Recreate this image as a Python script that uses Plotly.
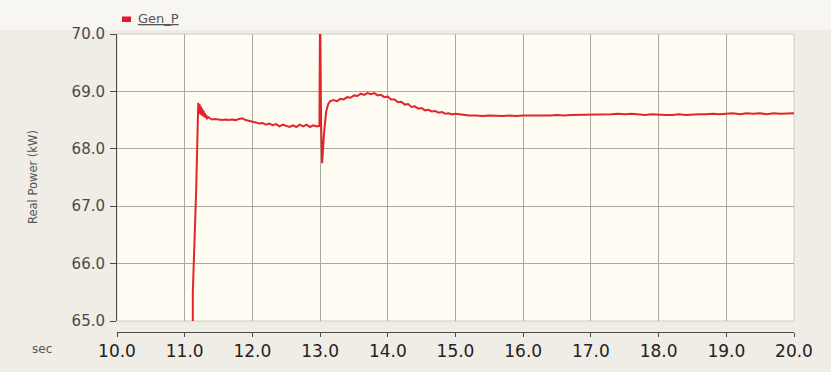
import plotly.graph_objects as go

# Generator real power trace (time in seconds, power in kW)
t_start = [10.00, 11.09, 11.12, 11.17]
p_start = [0.0, 0.0, 65.5, 67.3]

t_settle = [11.20, 11.21, 11.22, 11.23, 11.24, 11.25, 11.26, 11.27, 11.28, 11.29,
            11.30, 11.31, 11.32, 11.33, 11.35, 11.38]
p_settle = [68.80, 68.62, 68.78, 68.60, 68.74, 68.58, 68.70, 68.57, 68.66, 68.55,
            68.62, 68.54, 68.59, 68.53, 68.55, 68.52]

t_plateau = [11.40, 11.45, 11.50, 11.55, 11.60, 11.65, 11.70, 11.75, 11.80, 11.85,
             11.90, 11.95, 12.00, 12.05, 12.10, 12.15, 12.20, 12.25, 12.30, 12.35,
             12.40, 12.45, 12.50, 12.55, 12.60, 12.65, 12.70, 12.75, 12.80, 12.85,
             12.90, 12.95, 12.99]
p_plateau = [68.51, 68.52, 68.51, 68.50, 68.51, 68.50, 68.51, 68.50, 68.52, 68.53,
             68.50, 68.49, 68.47, 68.46, 68.44, 68.45, 68.42, 68.44, 68.41, 68.43,
             68.39, 68.42, 68.40, 68.38, 68.41, 68.38, 68.42, 68.39, 68.42, 68.38,
             68.41, 68.39, 68.40]

t_step = [13.00, 13.015, 13.03, 13.06, 13.09, 13.12, 13.15]
p_step = [70.60, 68.40, 67.75, 68.30, 68.65, 68.78, 68.83]

t_swing = [13.20, 13.25, 13.30, 13.35, 13.40, 13.45, 13.50, 13.55, 13.60, 13.65,
           13.70, 13.75, 13.80, 13.85, 13.90, 13.95, 14.00, 14.05, 14.10, 14.15,
           14.20, 14.25, 14.30, 14.35, 14.40, 14.45, 14.50, 14.55, 14.60, 14.65,
           14.70, 14.75, 14.80, 14.85, 14.90, 14.95, 15.00]
p_swing = [68.85, 68.83, 68.87, 68.86, 68.90, 68.89, 68.93, 68.92, 68.96, 68.94,
           68.97, 68.95, 68.97, 68.93, 68.94, 68.90, 68.91, 68.86, 68.86, 68.81,
           68.82, 68.77, 68.78, 68.73, 68.74, 68.70, 68.71, 68.67, 68.68, 68.65,
           68.66, 68.63, 68.64, 68.61, 68.62, 68.60, 68.61]

t_steady = [15.1, 15.2, 15.3, 15.4, 15.5, 15.6, 15.7, 15.8, 15.9, 16.0,
            16.1, 16.2, 16.3, 16.4, 16.5, 16.6, 16.7, 16.8, 16.9, 17.0,
            17.1, 17.2, 17.3, 17.4, 17.5, 17.6, 17.7, 17.8, 17.9, 18.0,
            18.1, 18.2, 18.3, 18.4, 18.5, 18.6, 18.7, 18.8, 18.9, 19.0,
            19.1, 19.2, 19.3, 19.4, 19.5, 19.6, 19.7, 19.8, 19.9, 20.0]
p_steady = [68.59, 68.58, 68.58, 68.57, 68.58, 68.57, 68.57, 68.58, 68.57, 68.58,
            68.58, 68.57, 68.58, 68.58, 68.59, 68.58, 68.59, 68.59, 68.60, 68.59,
            68.59, 68.60, 68.60, 68.61, 68.60, 68.61, 68.60, 68.59, 68.60, 68.59,
            68.59, 68.59, 68.60, 68.59, 68.60, 68.60, 68.60, 68.61, 68.60, 68.61,
            68.62, 68.60, 68.62, 68.61, 68.62, 68.60, 68.62, 68.61, 68.62, 68.62]

time_s = t_start + t_settle + t_plateau + t_step + t_swing + t_steady
gen_p = p_start + p_settle + p_plateau + p_step + p_swing + p_steady

x_ticks = [10, 11, 12, 13, 14, 15, 16, 17, 18, 19, 20]
y_ticks = [65, 66, 67, 68, 69, 70]

W, H = 831, 372
ML, MR, MT, MB = 117, 37, 34, 40
PW, PH = W - ML - MR, H - MT - MB


def px_x(px):
    return (px - ML) / PW


def px_y(py):
    return (H - MB - py) / PH


plot_bottom = 321
y_dom0 = px_y(plot_bottom)

fig = go.Figure()
fig.add_trace(go.Scatter(
    x=time_s, y=gen_p, mode="lines", name="Gen_P",
    line=dict(color="#E2252B", width=2), showlegend=False,
))

fig.update_layout(
    width=W, height=H,
    margin=dict(l=ML, r=MR, t=MT, b=MB, pad=0),
    paper_bgcolor="#F0ECE6",
    plot_bgcolor="#FEFCF3",
    font=dict(family="DejaVu Sans", color="#333333"),
    xaxis=dict(
        range=[10, 20], tickvals=x_ticks,
        ticktext=[f"{v:.1f}" for v in x_ticks],
        anchor="free", position=0,
        showgrid=True, gridcolor="#ABA9A0", gridwidth=1,
        showline=True, linecolor="#4A4A4A", linewidth=1,
        ticks="outside", ticklen=4, tickcolor="#4A4A4A",
        tickfont=dict(size=17, color="#222222"),
        zeroline=False, fixedrange=True,
    ),
    yaxis=dict(
        range=[65, 70], tickvals=y_ticks,
        ticktext=[f"{v:.1f}" for v in y_ticks],
        domain=[y_dom0, 1],
        showgrid=True, gridcolor="#ABA9A0", gridwidth=1,
        showline=True, linecolor="#4A4A4A", linewidth=1,
        ticks="outside", ticklen=6, tickcolor="#4A4A4A",
        tickfont=dict(size=15, color="#4A4A4A"),
        ticklabelstandoff=2,
        zeroline=False, fixedrange=True,
    ),
)

# light border round the plotting area
fig.add_shape(type="rect", xref="paper", yref="paper",
              x0=0, x1=1, y0=y_dom0, y1=1,
              line=dict(color="#CFCBC3", width=1), layer="below")

# lighter strip along the top of the panel
fig.add_shape(type="rect", xref="paper", yref="paper",
              x0=px_x(0), x1=px_x(W), y0=px_y(0), y1=px_y(30),
              line=dict(width=0), fillcolor="#F8F6F2", layer="below")

# legend key
fig.add_shape(type="rect", xref="paper", yref="paper",
              x0=px_x(122), x1=px_x(131), y0=px_y(22), y1=px_y(16.5),
              line=dict(width=0), fillcolor="#E01B24")
fig.add_annotation(text="<u>Gen_P</u>", xref="paper", yref="paper",
                   x=px_x(136), y=px_y(19), xanchor="left", yanchor="middle",
                   showarrow=False, font=dict(size=13, color="#555555"))

# axis titles
fig.add_annotation(text="Real Power (kW)", xref="paper", yref="paper",
                   x=px_x(33), y=px_y(177), textangle=-90,
                   xanchor="center", yanchor="middle", showarrow=False,
                   font=dict(size=11.5, color="#555555"))
fig.add_annotation(text="sec", xref="paper", yref="paper",
                   x=px_x(42), y=px_y(349), xanchor="center", yanchor="middle",
                   showarrow=False, font=dict(size=12, color="#555555"))

fig.write_html("out.html")
